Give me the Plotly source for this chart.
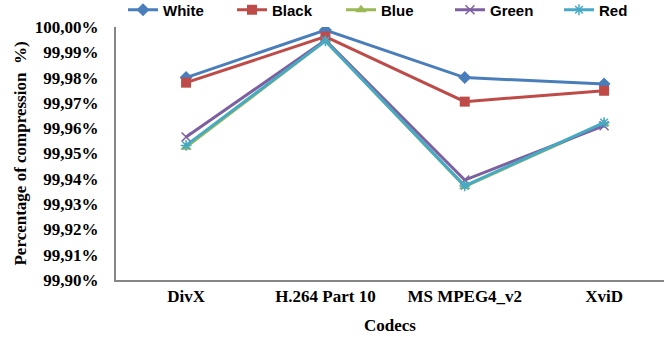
import plotly.graph_objects as go

# Compression ratio per codec, one series per colour channel / test clip
codecs = ["DivX", "H.264 Part 10", "MS MPEG4_v2", "XviD"]
white = [99.9800, 99.9988, 99.9800, 99.9775]
black = [99.9780, 99.9962, 99.9705, 99.9748]
blue = [99.9525, 99.9945, 99.9370, 99.9618]
green = [99.9565, 99.9948, 99.9395, 99.9610]
red = [99.9532, 99.9945, 99.9372, 99.9622]

y_ticks = [99.90, 99.91, 99.92, 99.93, 99.94, 99.95, 99.96, 99.97, 99.98, 99.99, 100.00]
y_tick_labels = ["99,90%", "99,91%", "99,92%", "99,93%", "99,94%", "99,95%",
                 "99,96%", "99,97%", "99,98%", "99,99%", "100,00%"]

series = [
    ("White", white, "#4A7EBB", dict(symbol="diamond", size=10)),
    ("Black", black, "#BE4B48", dict(symbol="square", size=10)),
    ("Blue", blue, "#98B954", dict(symbol="triangle-up", size=10)),
    ("Green", green, "#7D60A0", dict(symbol="x-thin", size=9, line=dict(width=1.5, color="#7D60A0"))),
    ("Red", red, "#46AAC5", dict(symbol="asterisk", size=9, line=dict(width=1.5, color="#46AAC5"))),
]

x_pos = list(range(len(codecs)))

fig = go.Figure()
for name, vals, color, marker in series:
    fig.add_trace(go.Scatter(
        x=x_pos, y=vals, name=name, mode="lines+markers",
        line=dict(color=color, width=3),
        marker=dict(color=color, **marker),
    ))

serif = "Liberation Serif"
fig.update_layout(
    width=664, height=338,
    margin=dict(l=116, r=0, t=27, b=58, autoexpand=False),
    plot_bgcolor="white", paper_bgcolor="white",
    showlegend=True,
    legend=dict(
        orientation="h", x=123 / 664, xref="container", xanchor="left",
        y=1 - 10 / 338, yref="container", yanchor="middle",
        entrywidth=64, entrywidthmode="pixels",
        font=dict(family="Liberation Sans", size=15, color="black", weight="bold"),
        bgcolor="rgba(0,0,0,0)", tracegroupgap=0,
    ),
    xaxis=dict(
        range=[-0.503, 3.43], tickvals=x_pos, ticktext=codecs,
        showgrid=False, zeroline=False, showline=True,
        linecolor="#868686", linewidth=2, ticks="",
        tickfont=dict(family=serif, size=17, color="black", weight="bold"),
        title=dict(text="Codecs", standoff=14,
                   font=dict(family=serif, size=17, color="black", weight="bold")),
    ),
    yaxis=dict(
        range=[99.90, 100.00], tickvals=y_ticks, ticktext=y_tick_labels,
        showgrid=False, zeroline=False, showline=True,
        linecolor="#868686", linewidth=2, ticks="",
        ticklabelstandoff=12,
        tickfont=dict(family=serif, size=17, color="black", weight="bold"),
        title=dict(text="Percentage of compression  %)", standoff=4,
                   font=dict(family=serif, size=17, color="black", weight="bold")),
    ),
)

fig.write_html("out.html")
